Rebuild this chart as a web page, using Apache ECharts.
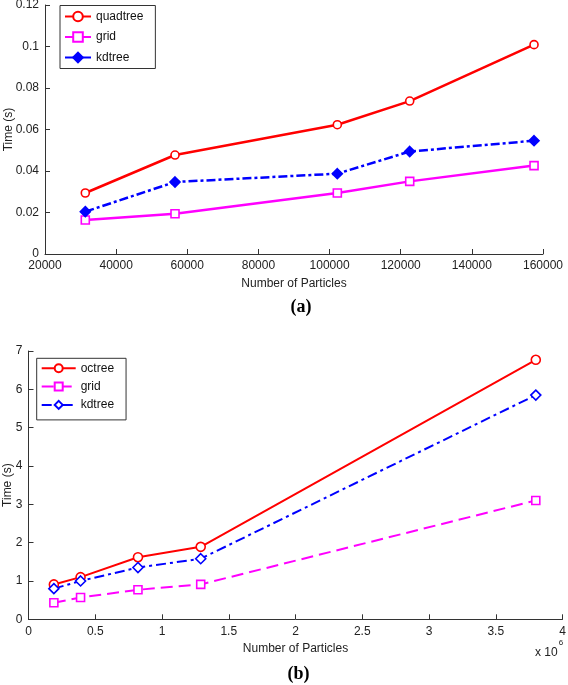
<!DOCTYPE html>
<html>
<head>
<meta charset="utf-8">
<script src="https://cdn.jsdelivr.net/npm/echarts@6/dist/echarts.min.js"></script>
<style>
html,body{margin:0;padding:0;background:#fff;}
#a{position:absolute;left:0;top:0;width:568px;height:325px;}
#b{position:absolute;left:0;top:325px;width:568px;height:360px;}
</style>
</head>
<body>
<div id="a"></div>
<div id="b"></div>
<script>
// (a) 2D
const topX = [31330, 56550, 102180, 122530, 157480];
const topQuad = [0.0294, 0.0477, 0.0623, 0.0737, 0.1009];
const topGrid = [0.0164, 0.0194, 0.0294, 0.0350, 0.0426];
const topKd = [0.0204, 0.0347, 0.0387, 0.0494, 0.0546];
// (b) 3D, x in units of 10^6 particles
const botX = [0.19, 0.39, 0.82, 1.29, 3.80];
const botOct = [0.91, 1.10, 1.62, 1.89, 6.77];
const botGrid = [0.43, 0.57, 0.77, 0.91, 3.10];
const botKd = [0.80, 1.00, 1.35, 1.58, 5.85];

const FONT = 'Liberation Sans, Arial, sans-serif';
const AX = '#333';
const LBL = '#222';
const pairs = (xs, ys) => xs.map((x, i) => [x, ys[i]]);

function axisCommon() {
  return {
    axisLine: {show: true, lineStyle: {color: AX, width: 1}},
    axisTick: {show: true, inside: true, length: 5, lineStyle: {color: AX}},
    splitLine: {show: false},
    axisLabel: {color: LBL, fontFamily: FONT, fontSize: 12, margin: 6, hideOverlap: false},
    nameTextStyle: {color: LBL, fontFamily: FONT, fontSize: 12},
    nameLocation: 'middle',
    nameMoveOverlap: false
  };
}

function ser(name, data, color, lineType, width, symbol, size, filled) {
  return {
    name: name, type: 'line', data: data,
    symbol: symbol, symbolSize: size, showSymbol: true,
    lineStyle: {color: color, width: width, type: lineType},
    itemStyle: {color: filled ? color : '#fff', borderColor: color, borderWidth: 1.6},
    emphasis: {disabled: true},
    animation: false, z: 3
  };
}

const ca = echarts.init(document.getElementById('a'), null, {renderer: 'canvas'});
ca.setOption({
  animation: false,
  grid: {left: 45, right: 25, top: 5, height: 249, containLabel: false, outerBoundsMode: 'none'},
  title: {text: '(a)', left: 296, top: 293, textAlign: 'center',
    textStyle: {fontFamily: 'Liberation Serif, Times New Roman, serif', fontWeight: 'bold', fontSize: 18, color: '#000'}},
  xAxis: Object.assign(axisCommon(), {
    type: 'value', min: 20000, max: 160000, interval: 20000,
    name: 'Number of Particles', nameGap: 24,
    axisLabel: {color: LBL, fontFamily: FONT, fontSize: 12, margin: 6, formatter: v => String(v)}
  }),
  yAxis: Object.assign(axisCommon(), {
    type: 'value', min: 0, max: 0.12, interval: 0.02,
    name: 'Time (s)', nameGap: 30
  }),
  legend: {
    orient: 'vertical', left: 60, top: 5.5, selectedMode: false,
    backgroundColor: '#fff', borderColor: '#333', borderWidth: 1, borderRadius: 0,
    padding: [5, 12, 5, 4], itemWidth: 26, itemHeight: 12, itemGap: 8.5,
    textStyle: {fontFamily: FONT, fontSize: 12, color: '#111'},
    data: ['quadtree', 'grid', 'kdtree']
  },
  series: [
    ser('quadtree', pairs(topX, topQuad), '#ff0000', 'solid', 2.5, 'circle', 8, false),
    ser('grid', pairs(topX, topGrid), '#ff00ff', 'solid', 2.5, 'rect', 8, false),
    ser('kdtree', pairs(topX, topKd), '#0000ff', [9, 3, 3, 3], 2.5, 'diamond', 10, true)
  ]
});

const cb = echarts.init(document.getElementById('b'), null, {renderer: 'canvas'});
cb.setOption({
  animation: false,
  grid: {left: 28.5, right: 5.5, top: 26, height: 268.3, containLabel: false, outerBoundsMode: 'none'},
  title: {text: '(b)', left: 293.5, top: 335, textAlign: 'center',
    textStyle: {fontFamily: 'Liberation Serif, Times New Roman, serif', fontWeight: 'bold', fontSize: 18, color: '#000'}},
  xAxis: Object.assign(axisCommon(), {
    type: 'value', min: 0, max: 4, interval: 0.5,
    name: 'Number of Particles', nameGap: 23
  }),
  yAxis: Object.assign(axisCommon(), {
    type: 'value', min: 0, max: 7, interval: 1,
    name: 'Time (s)', nameGap: 15
  }),
  legend: {
    orient: 'vertical', left: 36.7, top: 33.3, selectedMode: false,
    backgroundColor: '#fff', borderColor: '#333', borderWidth: 1, borderRadius: 0,
    padding: [4, 12, 9, 4], itemWidth: 34, itemHeight: 10, itemGap: 6.3,
    textStyle: {fontFamily: FONT, fontSize: 12, color: '#111'},
    data: ['octree', 'grid', 'kdtree']
  },
  graphic: [{
    type: 'text', left: 535, top: 314,
    style: {
      text: '{a|x 10}{s|6}', fontFamily: FONT,
      rich: {
        a: {fontSize: 12, fontFamily: FONT, fill: LBL, verticalAlign: 'bottom', lineHeight: 14},
        s: {fontSize: 8, fontFamily: FONT, fill: LBL, verticalAlign: 'top', padding: [0, 0, 12, 1]}
      }
    }
  }],
  series: [
    ser('octree', pairs(botX, botOct), '#ff0000', 'solid', 2, 'circle', 9, false),
    ser('grid', pairs(botX, botGrid), '#ff00ff', [12, 6], 2, 'rect', 8, false),
    ser('kdtree', pairs(botX, botKd), '#0000ff', [10, 4, 3, 4], 2, 'diamond', 10, false)
  ]
});
</script>
</body>
</html>
